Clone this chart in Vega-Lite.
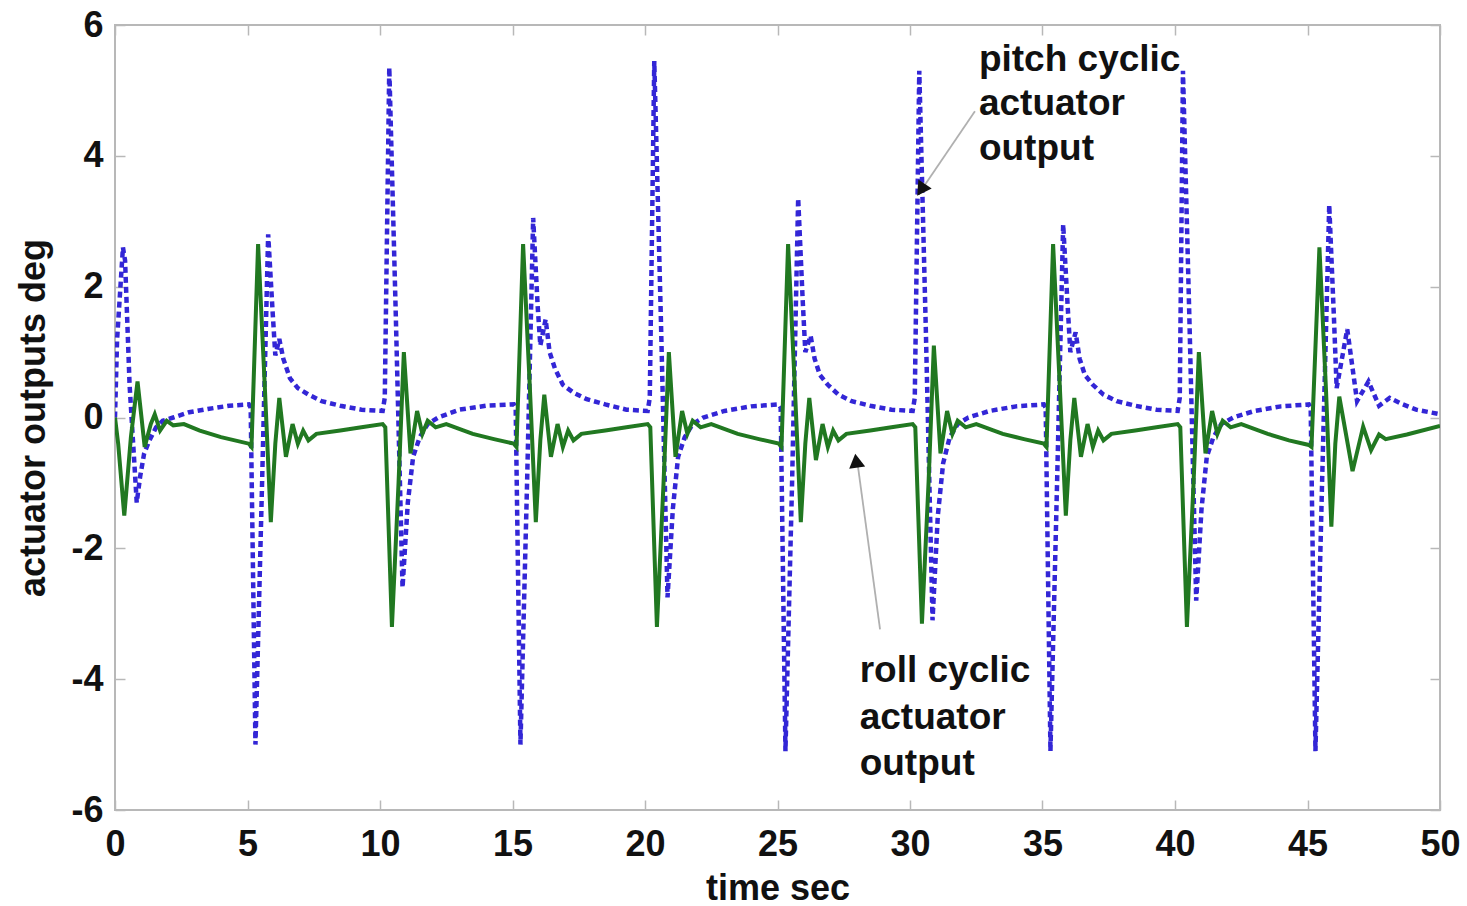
{
  "$schema": "https://vega.github.io/schema/vega-lite/v6.json",
  "autosize": "none",
  "width": 1325,
  "height": 785,
  "padding": {"left": 115, "top": 25, "right": 27, "bottom": 96},
  "background": "white",
  "config": {
    "view": {"stroke": "#b8b8b8", "strokeWidth": 2},
    "axis": {
      "labelFont": "Liberation Sans", "labelFontWeight": "bold", "labelFontSize": 36, "labelColor": "#111111",
      "titleFont": "Liberation Sans", "titleFontWeight": "bold", "titleFontSize": 36, "titleColor": "#111111",
      "domain": false, "grid": false, "tickColor": "#b8b8b8", "tickSize": -10, "tickWidth": 1.5,
      "labelExpr": "toString(datum.value)"
    },
    "text": {"font": "Liberation Sans"}
  },
  "datasets": {
    "pitch": [
      {"t": 0.0, "v": 0.0}, {"t": 0.08, "v": 1.2}, {"t": 0.3, "v": 2.6}, {"t": 0.38, "v": 2.4}, {"t": 0.55, "v": 0.5},
      {"t": 0.82, "v": -1.3}, {"t": 0.95, "v": -0.9}, {"t": 1.1, "v": -0.55}, {"t": 1.3, "v": -0.35}, {"t": 1.55, "v": -0.15},
      {"t": 1.8, "v": -0.05}, {"t": 2.2, "v": 0.0}, {"t": 2.8, "v": 0.08}, {"t": 3.5, "v": 0.13}, {"t": 4.3, "v": 0.18}, {"t": 5.05, "v": 0.2},
      {"t": 5.12, "v": 0.15}, {"t": 5.3, "v": -5.0}, {"t": 5.55, "v": -1.0}, {"t": 5.78, "v": 2.8}, {"t": 5.95, "v": 1.6},
      {"t": 6.05, "v": 0.95}, {"t": 6.2, "v": 1.2}, {"t": 6.35, "v": 0.9}, {"t": 6.6, "v": 0.6}, {"t": 6.9, "v": 0.45},
      {"t": 7.3, "v": 0.35}, {"t": 7.8, "v": 0.25}, {"t": 8.5, "v": 0.18}, {"t": 9.3, "v": 0.12}, {"t": 10.1, "v": 0.1},
      {"t": 10.18, "v": 0.3}, {"t": 10.35, "v": 5.35}, {"t": 10.6, "v": 1.5}, {"t": 10.85, "v": -2.6}, {"t": 11.05, "v": -1.3},
      {"t": 11.25, "v": -0.6}, {"t": 11.5, "v": -0.3}, {"t": 11.8, "v": -0.1}, {"t": 12.2, "v": 0.0}, {"t": 13.0, "v": 0.12},
      {"t": 14.0, "v": 0.18}, {"t": 15.05, "v": 0.2},
      {"t": 15.12, "v": 0.15}, {"t": 15.3, "v": -5.0}, {"t": 15.55, "v": -1.0}, {"t": 15.78, "v": 3.05}, {"t": 15.95, "v": 1.7},
      {"t": 16.05, "v": 1.1}, {"t": 16.25, "v": 1.5}, {"t": 16.4, "v": 1.0}, {"t": 16.6, "v": 0.75}, {"t": 16.9, "v": 0.5},
      {"t": 17.3, "v": 0.38}, {"t": 17.8, "v": 0.28}, {"t": 18.5, "v": 0.2}, {"t": 19.3, "v": 0.12}, {"t": 20.1, "v": 0.1},
      {"t": 20.18, "v": 0.3}, {"t": 20.35, "v": 5.45}, {"t": 20.6, "v": 1.5}, {"t": 20.85, "v": -2.75}, {"t": 21.05, "v": -1.4},
      {"t": 21.25, "v": -0.6}, {"t": 21.5, "v": -0.3}, {"t": 21.8, "v": -0.1}, {"t": 22.2, "v": 0.0}, {"t": 23.0, "v": 0.1},
      {"t": 24.0, "v": 0.17}, {"t": 25.05, "v": 0.2},
      {"t": 25.12, "v": 0.15}, {"t": 25.3, "v": -5.1}, {"t": 25.55, "v": -1.0}, {"t": 25.78, "v": 3.35}, {"t": 25.95, "v": 1.8},
      {"t": 26.05, "v": 1.0}, {"t": 26.25, "v": 1.25}, {"t": 26.4, "v": 0.9}, {"t": 26.6, "v": 0.65}, {"t": 26.9, "v": 0.5},
      {"t": 27.3, "v": 0.35}, {"t": 27.8, "v": 0.25}, {"t": 28.5, "v": 0.18}, {"t": 29.3, "v": 0.12}, {"t": 30.1, "v": 0.1},
      {"t": 30.18, "v": 0.3}, {"t": 30.35, "v": 5.3}, {"t": 30.6, "v": 1.3}, {"t": 30.85, "v": -3.1}, {"t": 31.05, "v": -1.5},
      {"t": 31.25, "v": -0.7}, {"t": 31.5, "v": -0.3}, {"t": 31.8, "v": -0.1}, {"t": 32.2, "v": 0.0}, {"t": 33.0, "v": 0.1},
      {"t": 34.0, "v": 0.17}, {"t": 35.05, "v": 0.2},
      {"t": 35.12, "v": 0.15}, {"t": 35.3, "v": -5.1}, {"t": 35.55, "v": -1.0}, {"t": 35.78, "v": 2.95}, {"t": 35.95, "v": 1.7},
      {"t": 36.05, "v": 1.0}, {"t": 36.25, "v": 1.3}, {"t": 36.4, "v": 0.9}, {"t": 36.6, "v": 0.65}, {"t": 36.9, "v": 0.5},
      {"t": 37.3, "v": 0.35}, {"t": 37.8, "v": 0.25}, {"t": 38.5, "v": 0.18}, {"t": 39.3, "v": 0.12}, {"t": 40.1, "v": 0.1},
      {"t": 40.18, "v": 0.3}, {"t": 40.3, "v": 5.3}, {"t": 40.55, "v": 1.4}, {"t": 40.8, "v": -2.8}, {"t": 41.0, "v": -1.4},
      {"t": 41.2, "v": -0.6}, {"t": 41.45, "v": -0.3}, {"t": 41.75, "v": -0.1}, {"t": 42.2, "v": 0.0}, {"t": 43.0, "v": 0.1},
      {"t": 44.0, "v": 0.17}, {"t": 45.05, "v": 0.2},
      {"t": 45.12, "v": 0.15}, {"t": 45.3, "v": -5.1}, {"t": 45.55, "v": -1.0}, {"t": 45.82, "v": 3.25}, {"t": 46.0, "v": 1.5},
      {"t": 46.1, "v": 0.45}, {"t": 46.5, "v": 1.35}, {"t": 46.87, "v": 0.25}, {"t": 47.3, "v": 0.55}, {"t": 47.7, "v": 0.18},
      {"t": 48.1, "v": 0.3}, {"t": 48.6, "v": 0.2}, {"t": 49.1, "v": 0.12}, {"t": 50.0, "v": 0.05}
    ],
    "roll": [
      {"t": 0.0, "v": 0.0}, {"t": 0.12, "v": -0.4}, {"t": 0.35, "v": -1.5}, {"t": 0.6, "v": -0.3}, {"t": 0.85, "v": 0.55},
      {"t": 1.0, "v": 0.0}, {"t": 1.12, "v": -0.45}, {"t": 1.35, "v": -0.1}, {"t": 1.5, "v": 0.05}, {"t": 1.7, "v": -0.2},
      {"t": 1.95, "v": -0.05}, {"t": 2.2, "v": -0.12}, {"t": 2.6, "v": -0.1}, {"t": 3.2, "v": -0.2}, {"t": 4.0, "v": -0.3}, {"t": 5.05, "v": -0.4},
      {"t": 5.15, "v": -0.45}, {"t": 5.4, "v": 2.65}, {"t": 5.65, "v": 0.5}, {"t": 5.88, "v": -1.6}, {"t": 6.05, "v": -0.4},
      {"t": 6.2, "v": 0.3}, {"t": 6.45, "v": -0.6}, {"t": 6.7, "v": -0.1}, {"t": 6.9, "v": -0.4}, {"t": 7.1, "v": -0.2},
      {"t": 7.3, "v": -0.35}, {"t": 7.6, "v": -0.25}, {"t": 8.5, "v": -0.2}, {"t": 9.3, "v": -0.15}, {"t": 10.1, "v": -0.1},
      {"t": 10.2, "v": -0.15}, {"t": 10.45, "v": -3.2}, {"t": 10.7, "v": -1.0}, {"t": 10.9, "v": 1.0}, {"t": 11.15, "v": -0.55},
      {"t": 11.4, "v": 0.1}, {"t": 11.6, "v": -0.25}, {"t": 11.8, "v": -0.05}, {"t": 12.1, "v": -0.15}, {"t": 12.5, "v": -0.1},
      {"t": 13.5, "v": -0.25}, {"t": 14.3, "v": -0.33}, {"t": 15.05, "v": -0.4},
      {"t": 15.15, "v": -0.45}, {"t": 15.4, "v": 2.65}, {"t": 15.65, "v": 0.5}, {"t": 15.88, "v": -1.6}, {"t": 16.05, "v": -0.35},
      {"t": 16.2, "v": 0.35}, {"t": 16.45, "v": -0.6}, {"t": 16.7, "v": -0.1}, {"t": 16.9, "v": -0.45}, {"t": 17.1, "v": -0.2},
      {"t": 17.3, "v": -0.35}, {"t": 17.6, "v": -0.25}, {"t": 18.5, "v": -0.2}, {"t": 19.3, "v": -0.15}, {"t": 20.1, "v": -0.1},
      {"t": 20.2, "v": -0.15}, {"t": 20.45, "v": -3.2}, {"t": 20.7, "v": -1.0}, {"t": 20.9, "v": 1.0}, {"t": 21.15, "v": -0.6},
      {"t": 21.4, "v": 0.1}, {"t": 21.6, "v": -0.25}, {"t": 21.8, "v": -0.05}, {"t": 22.1, "v": -0.15}, {"t": 22.5, "v": -0.1},
      {"t": 23.5, "v": -0.25}, {"t": 24.3, "v": -0.33}, {"t": 25.05, "v": -0.4},
      {"t": 25.15, "v": -0.45}, {"t": 25.4, "v": 2.65}, {"t": 25.65, "v": 0.5}, {"t": 25.88, "v": -1.6}, {"t": 26.05, "v": -0.4},
      {"t": 26.2, "v": 0.3}, {"t": 26.45, "v": -0.65}, {"t": 26.7, "v": -0.1}, {"t": 26.9, "v": -0.45}, {"t": 27.1, "v": -0.2},
      {"t": 27.3, "v": -0.35}, {"t": 27.6, "v": -0.25}, {"t": 28.5, "v": -0.2}, {"t": 29.3, "v": -0.15}, {"t": 30.1, "v": -0.1},
      {"t": 30.2, "v": -0.15}, {"t": 30.45, "v": -3.15}, {"t": 30.7, "v": -1.0}, {"t": 30.9, "v": 1.1}, {"t": 31.15, "v": -0.55},
      {"t": 31.4, "v": 0.1}, {"t": 31.6, "v": -0.25}, {"t": 31.8, "v": -0.05}, {"t": 32.1, "v": -0.15}, {"t": 32.5, "v": -0.1},
      {"t": 33.5, "v": -0.25}, {"t": 34.3, "v": -0.33}, {"t": 35.05, "v": -0.4},
      {"t": 35.15, "v": -0.45}, {"t": 35.4, "v": 2.65}, {"t": 35.65, "v": 0.5}, {"t": 35.88, "v": -1.5}, {"t": 36.05, "v": -0.35},
      {"t": 36.2, "v": 0.3}, {"t": 36.45, "v": -0.6}, {"t": 36.7, "v": -0.1}, {"t": 36.9, "v": -0.45}, {"t": 37.1, "v": -0.2},
      {"t": 37.3, "v": -0.35}, {"t": 37.6, "v": -0.25}, {"t": 38.5, "v": -0.2}, {"t": 39.3, "v": -0.15}, {"t": 40.1, "v": -0.1},
      {"t": 40.2, "v": -0.15}, {"t": 40.45, "v": -3.2}, {"t": 40.7, "v": -1.0}, {"t": 40.9, "v": 1.0}, {"t": 41.15, "v": -0.55},
      {"t": 41.4, "v": 0.1}, {"t": 41.6, "v": -0.25}, {"t": 41.8, "v": -0.05}, {"t": 42.1, "v": -0.15}, {"t": 42.5, "v": -0.1},
      {"t": 43.5, "v": -0.25}, {"t": 44.3, "v": -0.35}, {"t": 45.05, "v": -0.42},
      {"t": 45.15, "v": -0.45}, {"t": 45.45, "v": 2.6}, {"t": 45.7, "v": 0.4}, {"t": 45.9, "v": -1.67}, {"t": 46.05, "v": -0.4},
      {"t": 46.2, "v": 0.32}, {"t": 46.7, "v": -0.82}, {"t": 47.1, "v": -0.14}, {"t": 47.4, "v": -0.5}, {"t": 47.7, "v": -0.26},
      {"t": 47.95, "v": -0.33}, {"t": 48.75, "v": -0.26}, {"t": 50.0, "v": -0.13}
    ],
    "notes": [
      {"t": 32.6, "v": 5.47, "label": "pitch cyclic"},
      {"t": 32.6, "v": 4.79, "label": "actuator"},
      {"t": 32.6, "v": 4.1, "label": "output"},
      {"t": 28.1, "v": -3.88, "label": "roll cyclic"},
      {"t": 28.1, "v": -4.59, "label": "actuator"},
      {"t": 28.1, "v": -5.3, "label": "output"}
    ],
    "arrows": [
      {"t": 32.45, "v": 4.68, "t2": 30.45, "v2": 3.49},
      {"t": 28.87, "v": -3.24, "t2": 28.0, "v2": -0.64}
    ],
    "heads": [
      {"t": 30.42, "v": 3.48, "a": 214},
      {"t": 27.97, "v": -0.66, "a": 352}
    ]
  },
  "layer": [
    {
      "data": {"name": "pitch"},
      "mark": {"type": "line", "color": "#3326d6", "strokeWidth": 4.5, "strokeDash": [6, 4], "clip": true},
      "encoding": {
        "x": {"field": "t", "type": "quantitative", "scale": {"domain": [0, 50], "nice": false, "zero": false},
              "axis": {"orient": "bottom", "values": [0, 5, 10, 15, 20, 25, 30, 35, 40, 45, 50], "title": "time sec", "labelPadding": 27, "titlePadding": 9, "labelFlush": false}},
        "y": {"field": "v", "type": "quantitative", "scale": {"domain": [-6, 6], "nice": false, "zero": false},
              "axis": {"orient": "left", "values": [-6, -4, -2, 0, 2, 4, 6], "title": "actuator outputs deg", "labelPadding": 22, "titlePadding": 18, "labelFlush": false}}
      }
    },
    {
      "data": {"name": "roll"},
      "mark": {"type": "line", "color": "#217821", "strokeWidth": 4, "clip": true},
      "encoding": {
        "x": {"field": "t", "type": "quantitative", "scale": {"domain": [0, 50], "nice": false, "zero": false},
              "axis": {"orient": "top", "values": [0, 5, 10, 15, 20, 25, 30, 35, 40, 45, 50], "labels": false, "title": null}},
        "y": {"field": "v", "type": "quantitative", "scale": {"domain": [-6, 6], "nice": false, "zero": false},
              "axis": {"orient": "right", "values": [-6, -4, -2, 0, 2, 4, 6], "labels": false, "title": null}}
      }
    },
    {
      "data": {"name": "arrows"},
      "mark": {"type": "rule", "color": "#b0b0b0", "strokeWidth": 1.8},
      "encoding": {
        "x": {"field": "t", "type": "quantitative", "axis": null},
        "y": {"field": "v", "type": "quantitative", "axis": null},
        "x2": {"field": "t2"},
        "y2": {"field": "v2"}
      }
    },
    {
      "data": {"name": "heads"},
      "mark": {"type": "point", "shape": "triangle-up", "filled": true, "color": "#111111", "size": 260, "opacity": 1},
      "encoding": {
        "x": {"field": "t", "type": "quantitative", "axis": null},
        "y": {"field": "v", "type": "quantitative", "axis": null},
        "angle": {"field": "a", "type": "quantitative", "scale": null}
      }
    },
    {
      "data": {"name": "notes"},
      "mark": {"type": "text", "align": "left", "baseline": "middle", "fontSize": 37, "fontWeight": "bold", "color": "#111111"},
      "encoding": {
        "x": {"field": "t", "type": "quantitative", "axis": null},
        "y": {"field": "v", "type": "quantitative", "axis": null},
        "text": {"field": "label"}
      }
    }
  ]
}
